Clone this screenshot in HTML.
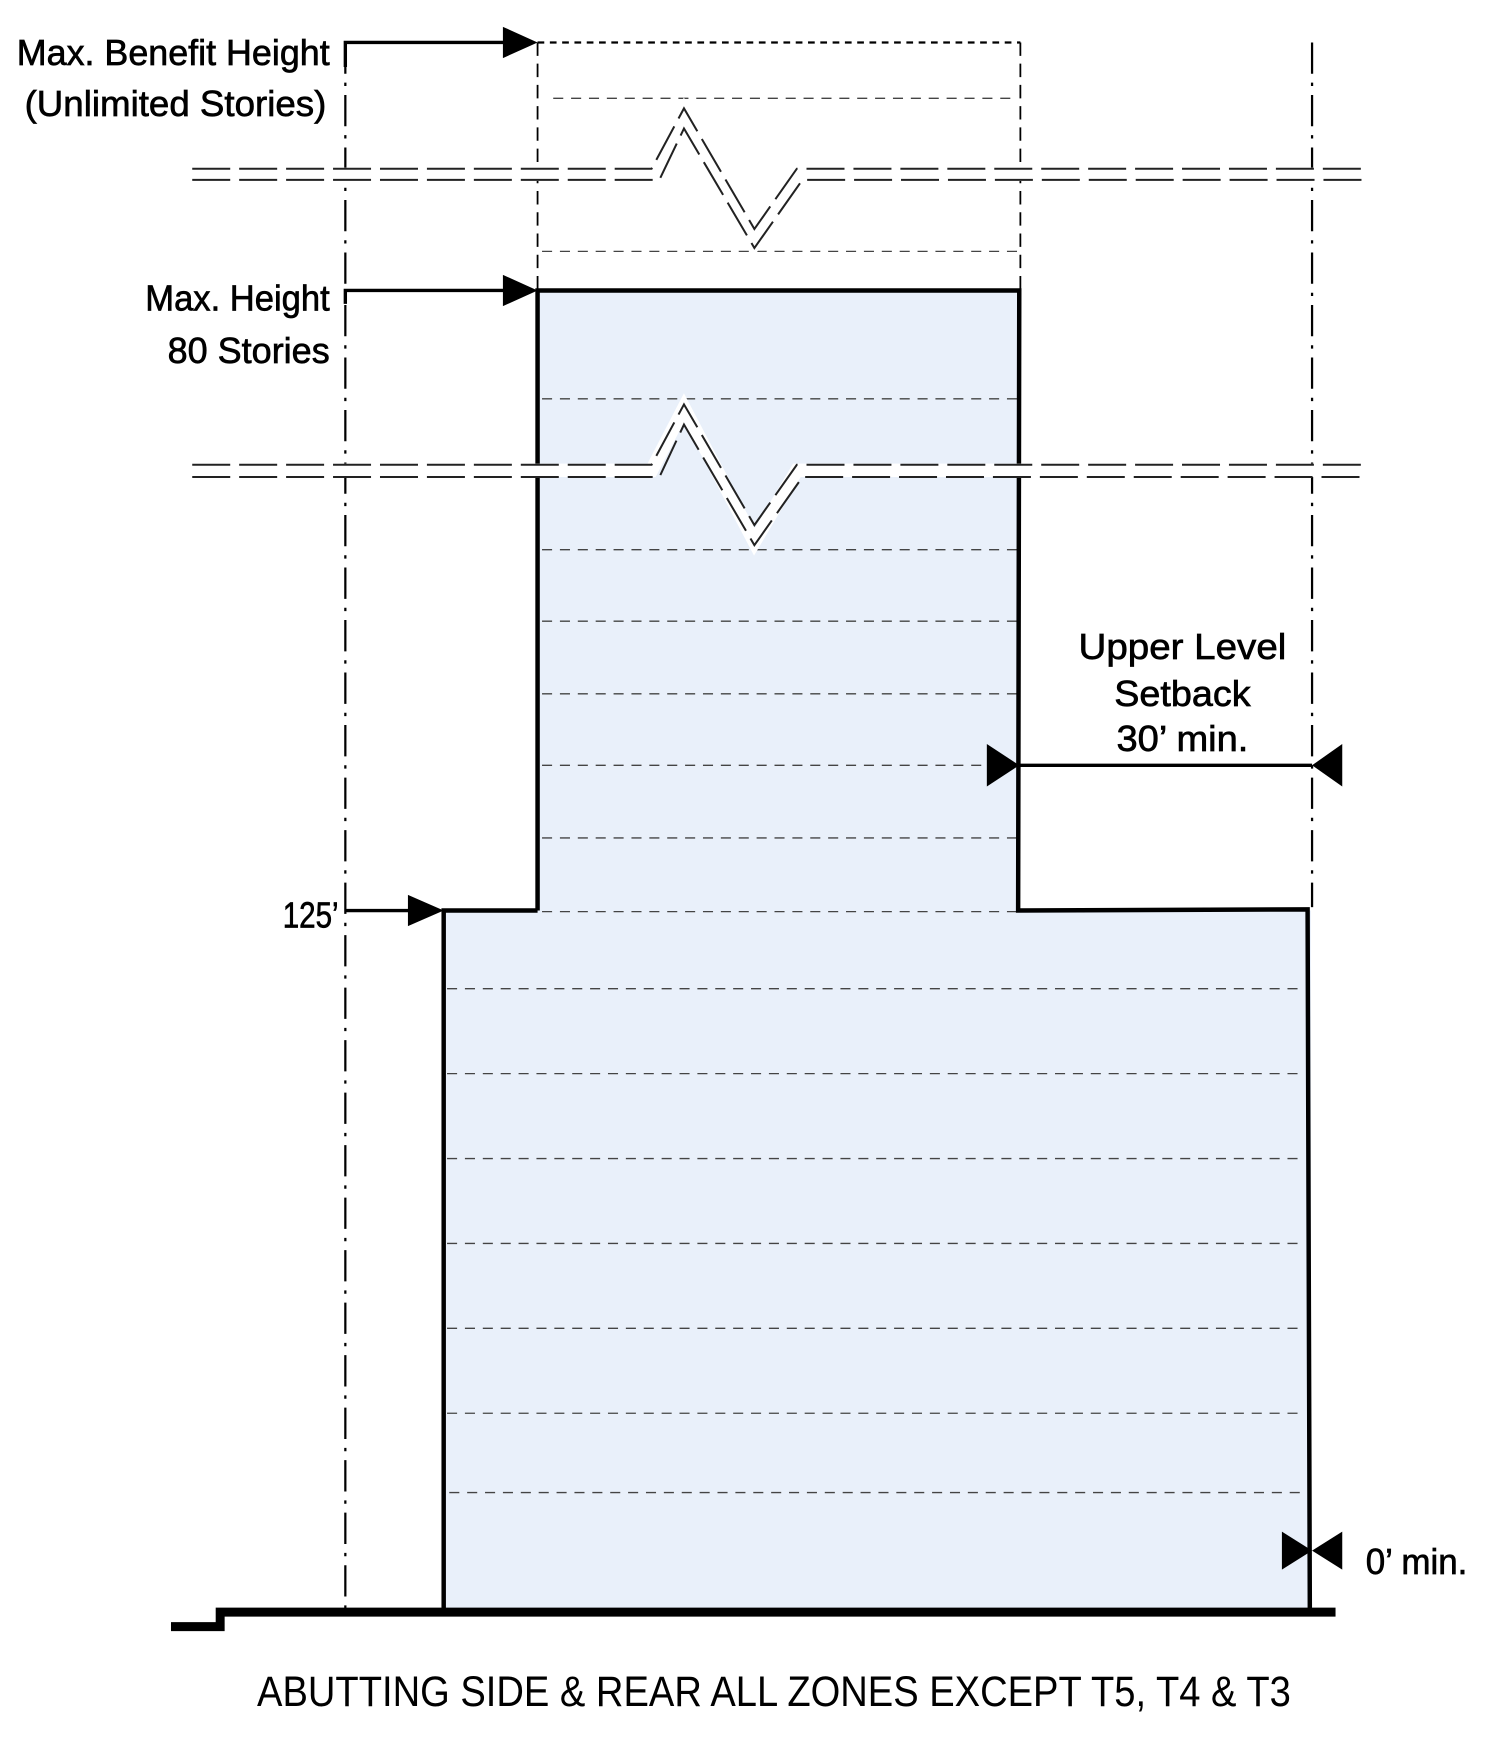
<!DOCTYPE html>
<html><head><style>html,body{margin:0;padding:0;background:#fff}svg{display:block}</style></head>
<body>
<svg width="1492" height="1754" viewBox="0 0 1335 1570" preserveAspectRatio="none" xmlns="http://www.w3.org/2000/svg" font-family="Liberation Sans, sans-serif">
<rect width="1335" height="1570" fill="#fff"/>
<rect x="481" y="260" width="431" height="556" fill="#e9f0fa"/>
<rect x="397" y="815" width="776" height="628" fill="#e9f0fa"/>
<g stroke="#444" stroke-width="1.2" stroke-dasharray="9,7" fill="none">
<line x1="495" y1="88" x2="910" y2="88"/>
<line x1="485" y1="225" x2="910" y2="225"/>
<line x1="485" y1="357" x2="910" y2="357"/>
<line x1="485" y1="492" x2="910" y2="492"/>
<line x1="485" y1="556" x2="910" y2="556"/>
<line x1="485" y1="621" x2="910" y2="621"/>
<line x1="485" y1="685" x2="910" y2="685"/>
<line x1="485" y1="750" x2="910" y2="750"/>
<line x1="485" y1="816" x2="910" y2="816"/>
<line x1="400" y1="885" x2="1168" y2="885"/>
<line x1="400" y1="961" x2="1168" y2="961"/>
<line x1="400" y1="1037" x2="1168" y2="1037"/>
<line x1="400" y1="1113" x2="1168" y2="1113"/>
<line x1="400" y1="1189" x2="1168" y2="1189"/>
<line x1="400" y1="1265" x2="1168" y2="1265"/>
<line x1="402" y1="1336" x2="1168" y2="1336"/>
</g>
<g stroke="#000" stroke-width="2" stroke-dasharray="28,8,3,8" fill="none">
<line x1="309" y1="38" x2="309" y2="1440"/>
<line x1="1174" y1="38" x2="1174" y2="812"/>
</g>
<g stroke="#000" stroke-width="1.6" fill="none">
<line x1="481" y1="38" x2="913" y2="38" stroke-dasharray="6,5" stroke-width="2"/>
<line x1="481" y1="38" x2="481" y2="260" stroke-dasharray="12,7"/>
<line x1="913" y1="38" x2="913" y2="260" stroke-dasharray="12,7"/>
</g>
<path d="M481,815 L481,260 L912,260 L911,815 L1170,814 L1172,1442 M397,1442 L397,815 L481,815" fill="none" stroke="#000" stroke-width="4"/>
<g fill="none" stroke="#fff" stroke-width="12">
<path d="M172,156 L583,156 L612,100 L675,218 L713,156 L1220,156"/>
<path d="M172,421 L583,421 L612,365 L675,485 L713,421 L1220,421"/>
</g>
<g fill="none" stroke="#222" stroke-width="1.8" stroke-dasharray="34,8">
<path d="M172,151 L583,151 L612,97 L675,205 L713,151 L1220,151"/>
<path d="M172,161 L590,161 L612,115 L675,222 L718,161 L1220,161"/>
<path d="M172,416 L583,416 L612,362 L675,470 L713,416 L1220,416"/>
<path d="M172,427 L590,427 L612,380 L675,488 L718,427 L1220,427"/>
</g>
<path d="M153,1456 L197,1456 L197,1443 L1195,1443" fill="none" stroke="#000" stroke-width="8"/>
<g stroke="#000" stroke-width="3" fill="none">
<path d="M309,60 L309,38 L460,38"/>
<path d="M309,272 L309,260 L460,260"/>
<line x1="309" y1="815" x2="378" y2="815"/>
<line x1="912" y1="685" x2="1174" y2="685"/>
</g>
<g fill="#000">
<polygon points="450,24 481,38 450,52"/>
<polygon points="450,246 481,260 450,274"/>
<polygon points="365,801 397,815 365,829"/>
<polygon points="883,666 912,685 883,704"/>
<polygon points="1201,666 1174,685 1201,704"/>
<polygon points="1147,1371 1174,1388 1147,1405"/>
<polygon points="1201,1371 1174,1388 1201,1405"/>
</g>
<g fill="#000" stroke="#000" stroke-width="0.6" font-size="32">
<text x="15" y="58" textLength="280" lengthAdjust="spacingAndGlyphs">Max. Benefit Height</text>
<text x="22" y="104" textLength="270" lengthAdjust="spacingAndGlyphs">(Unlimited Stories)</text>
<text x="130" y="278" textLength="165" lengthAdjust="spacingAndGlyphs">Max. Height</text>
<text x="150" y="325" textLength="145" lengthAdjust="spacingAndGlyphs">80 Stories</text>
<text x="253" y="830" textLength="50" lengthAdjust="spacingAndGlyphs">125’</text>
<text x="965" y="590" textLength="186" lengthAdjust="spacingAndGlyphs">Upper Level</text>
<text x="997" y="632" textLength="122" lengthAdjust="spacingAndGlyphs">Setback</text>
<text x="999" y="672" textLength="118" lengthAdjust="spacingAndGlyphs">30’ min.</text>
<text x="1222" y="1409" textLength="91" lengthAdjust="spacingAndGlyphs">0’ min.</text>
</g>
<text x="230" y="1527" font-size="38" fill="#000" textLength="925" lengthAdjust="spacingAndGlyphs">ABUTTING SIDE &amp; REAR ALL ZONES EXCEPT T5, T4 &amp; T3</text>
</svg>
</body></html>
